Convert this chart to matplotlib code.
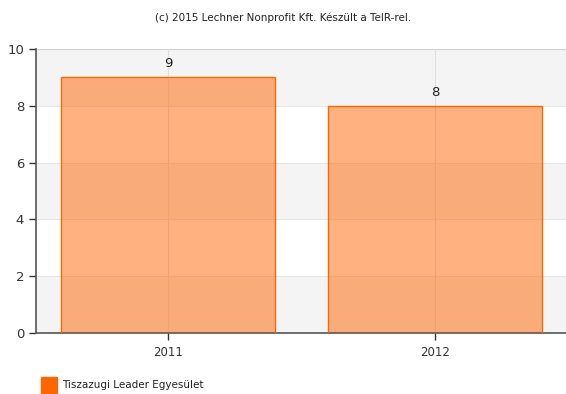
import matplotlib
matplotlib.use('Agg')
import matplotlib.pyplot as plt
from matplotlib.patches import Rectangle

years = ['2011', '2012']
values = [9, 8]
series_name = 'Tiszazugi Leader Egyesület'
credit = '(c) 2015 Lechner Nonprofit Kft. Készült a TeIR-rel.'
yticks = [0, 2, 4, 6, 8, 10]

W, H = 566, 394
fig = plt.figure(figsize=(W / 100, H / 100), dpi=100)
ax = fig.add_axes([36 / W, 1 - 333 / H, (W - 36) / W, (333 - 49) / H])

# alternating horizontal bands
for i in range(0, len(yticks) - 1):
    if i % 2 == 0:
        ax.axhspan(yticks[i], yticks[i + 1], color='#f4f4f4', zorder=0, lw=0)
for y in yticks[1:-1]:
    ax.axhline(y, color='#e6e6e6', lw=0.8, zorder=0.5)
ax.axhline(yticks[-1], color='#d0d0d0', lw=1.5, zorder=0.5)

x = list(range(len(years)))
for xi in x:
    ax.axvline(xi, color='#e0e0e0', lw=0.8, zorder=0.5)

ax.bar(x, values, width=0.8, color='#ff6600', alpha=0.5, zorder=2, lw=0)
ax.bar(x, values, width=0.8, facecolor='none', edgecolor='#ff6600', lw=1.0, zorder=3)

for xi, v in zip(x, values):
    ax.text(xi, v + 0.25, str(v), ha='center', va='bottom', fontsize=9.5, color='#222222')

ax.set_xlim((36 - 168) / 267, (566 - 168) / 267)
ax.set_ylim(0, 10)
ax.set_yticks(yticks)
ax.set_xticks(x)
ax.set_xticklabels(years)
ax.tick_params(axis='both', labelsize=8.5, colors='#333333', length=5, width=1)
ax.tick_params(axis='y', labelsize=9.5)
ax.tick_params(axis='x', pad=4)
for s in ['top', 'right']:
    ax.spines[s].set_visible(False)
ax.spines['left'].set_color('#555555')
ax.spines['bottom'].set_color('#555555')
ax.spines['left'].set_linewidth(1.2)
ax.spines['bottom'].set_linewidth(1.2)

fig.text(0.5, 1 - 18 / H, credit, ha='center', va='center', fontsize=7.5, color='#222222')

fig.patches.append(Rectangle((41 / W, 1 - 393 / H), 16 / W, 16 / H,
                             transform=fig.transFigure, color='#ff6600'))
fig.text(62 / W, 1 - 385 / H, series_name, ha='left', va='center', fontsize=7.5, color='#222222')

fig.savefig('out.png', dpi=100)
